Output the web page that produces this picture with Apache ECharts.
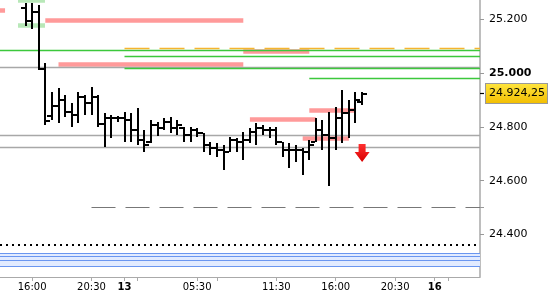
<!DOCTYPE html>
<html><head><meta charset="utf-8">
<script src="https://cdn.jsdelivr.net/npm/echarts@6/dist/echarts.min.js"></script>
<style>html,body{margin:0;padding:0;background:#fff}#c{width:550px;height:300px}</style>
</head><body><div id="c"></div>
<script>
// ---- bar times (30 min bars) ----
const times = ['15:30','16:00','16:30','17:00','17:30','18:00','18:30','19:00','19:30','20:00','20:30','21:00','21:30','22:00','22:30',
  '00:00','00:30','01:00','01:30','02:00','02:30','03:00','03:30','04:00','04:30','05:00','05:30','06:00','06:30','07:00','07:30',
  '08:00','08:30','09:00','09:30','10:00','10:30','11:00','11:30','12:00','12:30','13:00','13:30','14:00','14:30','15:00','15:30',
  '16:00','16:30','17:00','17:30','18:00'];
const open  = [25242,25195,25229,25016,24840,24878,24900,24856,24844,24911,24889,24911,24811,24833,24833,24833,24826,24789,24751,24745,24807,24796,24818,24796,24795,24770,24789,24777,24733,24722,24714,24707,24751,24744,24751,24781,24796,24789,24789,24744,24714,24714,24714,24707,24745,24789,24770,24760,24833,24851,24863,24893];
const high  = [25261,25260,25254,25038,24930,24945,24919,24889,24930,24919,24949,24919,24851,24844,24841,24856,24852,24870,24789,24826,24818,24833,24837,24826,24800,24800,24796,24777,24744,24740,24733,24762,24759,24781,24796,24815,24807,24800,24800,24744,24740,24733,24722,24751,24833,24826,24856,24874,24937,24900,24930,24930];
const low   = [25175,25163,25012,24807,24826,24815,24837,24800,24815,24844,24844,24800,24725,24759,24818,24744,24744,24733,24707,24740,24766,24789,24777,24770,24744,24744,24763,24707,24695,24688,24640,24707,24707,24677,24740,24733,24770,24759,24733,24688,24647,24669,24621,24677,24744,24714,24580,24714,24740,24759,24815,24882];
const close = [25195,25229,25016,24822,24878,24900,24856,24844,24911,24889,24911,24811,24833,24833,24833,24826,24789,24751,24733,24807,24796,24818,24796,24807,24770,24789,24777,24733,24722,24714,24707,24751,24744,24751,24781,24796,24789,24789,24744,24714,24714,24714,24707,24733,24789,24770,24760,24833,24851,24863,24900,24924.25];
const lastPrice = 24924.25;

// ---- axis ticks ----
const xMin = -3.864, xMax = 68.864;
const yMin = 24241.4, yMax = 25272.3;
const xTickPos    = [1, 10, 15, 17, 26, 29, 38, 47, 56, 62, 64];
const xTickLabels = ['16:00','20:30','13','','05:30','','11:30','16:00','20:30','16',''];
const yLabelValues = [24400, 24600, 24800, 25000, 25200];
const yTickValues  = [24400, 24500, 24600, 24800, 25000, 25200];

// ---- levels: [fromIndex, toIndex, value] ----
const redZones   = [[-3.864,-3.1,25233],[3,33,25196],[5,33,25032],[33,43,25083],[34,44,24827.5],[43,50,24863],[42,49,24758]];
const greenZones = [[-1.14,2.95,25270],[-1.14,2.95,25177]];
const greenLines = [[xMin,xMax,25086],[15,xMax,25064],[15,xMax,25019],[43,xMax,24981]];
const orangeDashed = [[15,xMax,25092.5]];
const grayLines  = [[xMin,xMax,25023],[xMin,xMax,24770],[xMin,xMax,24724]];
const grayDashed = [[10,xMax,24500]];
const dottedLines = [[xMin,xMax,24362]];
const blueLines  = [24329.6, 24317, 24304.7, 24282.3];
const blueBand   = [24282.3, 24329.6];
const arrowPoint = [51, 24703];

const FONT = 'DejaVu Sans';
function seg(list, style) {
  return list.map(s => [{coord:[s[0], s[2]], lineStyle: style}, {coord:[s[1], s[2]]}]);
}
const markLineData = [].concat(
  seg(redZones,   {color:'#ff9a9a', width:4.5, type:'solid', cap:'butt'}),
  seg(greenZones, {color:'#b8e8b8', width:4.5, type:'solid', cap:'butt'}),
  seg(grayLines,  {color:'#a8a8a8', width:1.3, type:'solid'}),
  seg(grayDashed, {color:'#777777', width:1.2, type:[24,10]}),
  seg(dottedLines,{color:'#000000', width:2, type:[2,4]}),
  blueLines.map(v => ({yAxis:v, lineStyle:{color:'#6a96f0', width:1.2, type:'solid'}})),
  seg(greenLines, {color:'#3cc83c', width:1.3, type:'solid'}),
  seg(orangeDashed,{color:'#f5b52e', width:1.3, type:[25,10]})
);

const chart = echarts.init(document.getElementById('c'), null, {renderer:'canvas'});
chart.setOption({
  animation: false,
  grid: {left:0, right:70, top:0, bottom:23},
  xAxis: {
    type:'value', min:xMin, max:xMax,
    axisLine:{onZero:false, lineStyle:{color:'#aaaaaa', width:1}},
    axisTick:{customValues:xTickPos, length:4, lineStyle:{color:'#aaaaaa'}},
    axisLabel:{
      customValues: xTickPos.filter((p,i)=>xTickLabels[i] !== ''),
      fontFamily:FONT, fontSize:10, color:'#000', margin:5,
      formatter: v => { const t = xTickLabels[xTickPos.indexOf(v)] || ''; return /^\d+$/.test(t) ? '{b|'+t+'}' : t; },
      rich:{b:{fontFamily:FONT, fontSize:10, fontWeight:'bold', color:'#000'}}
    },
    splitLine:{show:false}
  },
  yAxis: [{
    type:'value', position:'right', min:yMin, max:yMax, scale:true,
    axisLine:{show:true, onZero:false, lineStyle:{color:'#a8a8a8', width:1.5}},
    axisTick:{show:true, customValues:yTickValues, length:4, lineStyle:{color:'#999999'}},
    axisLabel:{
      customValues:yLabelValues, fontFamily:FONT, fontSize:11, color:'#000', margin:9,
      formatter: v => { const t = (v/1000).toFixed(3); return v === 25000 ? '{b|'+t+'}' : t; },
      rich:{b:{fontFamily:FONT, fontSize:11, fontWeight:'bold', color:'#000'}}
    },
    splitLine:{show:false}
  },{
    type:'value', position:'right', min:yMin, max:yMax, scale:true,
    axisLine:{show:false, onZero:false},
    axisTick:{show:true, customValues:[lastPrice], length:4, lineStyle:{color:'#000', width:1.2}},
    axisLabel:{show:false}, splitLine:{show:false}
  }],
  series: [{
    type:'line', data:[], silent:true,
    markArea:{silent:true, z:1, itemStyle:{color:'#e2ebff'}, data:[[{yAxis:blueBand[0]},{yAxis:blueBand[1]}]]},
    markLine:{silent:true, z:1, symbol:['none','none'], label:{show:false}, data:markLineData}
  },{
    type:'line', data:[], silent:true, clip:false,
    markLine:{silent:true, z:6, symbol:['none','none'],
      data:[
        {yAxis:lastPrice, lineStyle:{color:'rgba(0,0,0,0)', width:1},
        label:{show:true, position:'end', distance:6, formatter:'24.924,25',
          fontFamily:FONT, fontSize:11, color:'#000', lineHeight:13,
          padding:[3,2,3,3], borderColor:'#999', borderWidth:1,
          backgroundColor:{type:'linear', x:0, y:0, x2:0, y2:1, colorStops:[{offset:0,color:'#ffe640'},{offset:1,color:'#f2bd00'}]}
        }}]}
  },{
    type:'custom', z:3,
    data: times.map((t,i)=>[i, open[i], high[i], low[i], close[i]]),
    renderItem: function(params, api){
      const x = api.value(0);
      const o = api.coord([x, api.value(1)]);
      const h = api.coord([x, api.value(2)]);
      const l = api.coord([x, api.value(3)]);
      const c = api.coord([x, api.value(4)]);
      const cx = Math.round(h[0] - 1);
      return {type:'group', children:[
        {type:'rect', shape:{x:cx, y:Math.round(h[1]), width:2, height:Math.max(2, Math.round(l[1]-h[1]))}, style:{fill:'#000'}},
        {type:'rect', shape:{x:cx-4, y:Math.round(o[1]-1), width:4, height:2}, style:{fill:'#000'}},
        {type:'rect', shape:{x:cx+2, y:Math.round(c[1]-1), width:4, height:2}, style:{fill:'#000'}}
      ]};
    },
    markPoint:{silent:true, z:7,
      data:[{coord:arrowPoint}],
      symbol:'path://M4,0 L11,0 L11,8 L15,8 L7.5,18 L0,8 L4,8 Z',
      symbolSize:[15,18], symbolKeepAspect:false,
      label:{show:false},
      itemStyle:{color:{type:'linear', x:0, y:0, x2:0, y2:1, colorStops:[{offset:0,color:'#ff3030'},{offset:1,color:'#d80000'}]}}
    }
  }]
});
</script>
</body></html>
